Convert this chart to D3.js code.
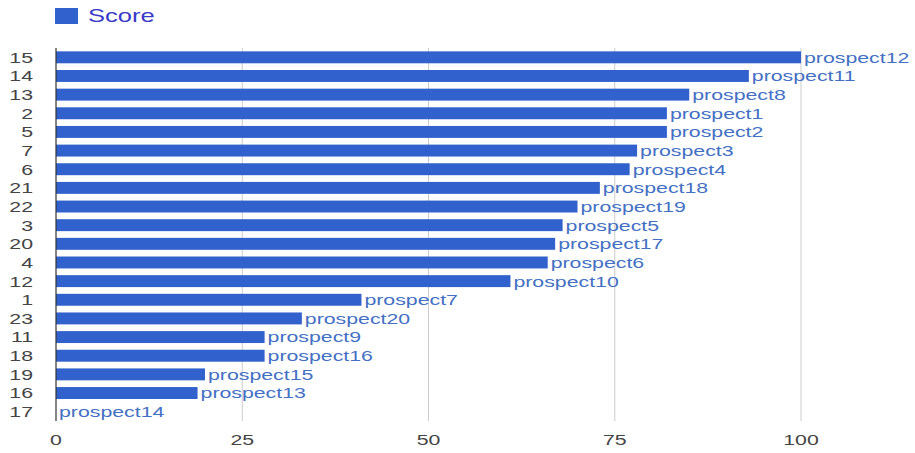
<!DOCTYPE html>
<html>
<head>
<meta charset="utf-8">
<script src="https://cdn.jsdelivr.net/npm/d3@7"></script>
<style>
  body { margin: 0; background: #fff; }
  text { font-family: "Liberation Sans", Arial, sans-serif; }
</style>
</head>
<body>
<div id="chart"></div>
<script>
// row ids as shown on the y axis, top to bottom
const ids = ['15', '14', '13', '2', '5', '7', '6', '21', '22', '3', '20', '4', '12', '1', '23', '11', '18', '19', '16', '17'];
const names = ['prospect12', 'prospect11', 'prospect8', 'prospect1', 'prospect2', 'prospect3', 'prospect4', 'prospect18', 'prospect19', 'prospect5',
  'prospect17', 'prospect6', 'prospect10', 'prospect7', 'prospect20', 'prospect9', 'prospect16', 'prospect15', 'prospect13', 'prospect14'];
const scores = [100, 93, 85, 82, 82, 78, 77, 73, 70, 68, 67, 66, 61, 41, 33, 28, 28, 20, 19, 0];
const xTicks = [0, 25, 50, 75, 100];
const seriesName = 'Score';

const width = 915, height = 453;
const margin = {top: 48, right: 114, bottom: 32, left: 56};
const barColor = '#3061cc';
const stretch = 1.42; // the original picture is widened

const rows = ids.map((id, i) => ({id: id, name: names[i], score: scores[i]}));

const svg = d3.select('#chart').append('svg')
  .attr('width', width)
  .attr('height', height);

const x = d3.scaleLinear()
  .domain([0, 100])
  .range([margin.left, width - margin.right]);

const y = d3.scaleBand()
  .domain(ids)
  .range([margin.top, height - margin.bottom])
  .paddingInner(0.36)
  .paddingOuter(0.18);

// place text at (px, py), widened horizontally
function at(px, py) {
  return 'translate(' + px + ',' + py + ') scale(' + stretch + ',1)';
}

// gridlines
svg.append('g')
  .selectAll('line')
  .data(xTicks.filter(t => t > 0))
  .enter().append('line')
    .attr('x1', d => x(d)).attr('x2', d => x(d))
    .attr('y1', margin.top).attr('y2', height - margin.bottom)
    .style('stroke', '#cccccc')
    .style('stroke-width', 1);

// bars
svg.append('g')
  .selectAll('rect')
  .data(rows)
  .enter().append('rect')
    .attr('x', x(0))
    .attr('y', d => y(d.id))
    .attr('width', d => x(d.score) - x(0))
    .attr('height', y.bandwidth())
    .style('fill', barColor);

// bar annotations
svg.append('g')
  .selectAll('text')
  .data(rows)
  .enter().append('text')
    .attr('transform', d => at(x(d.score) + 3, y(d.id) + y.bandwidth() / 2))
    .attr('dy', '0.36em')
    .style('font-size', '15px')
    .style('fill', '#4470c4')
    .text(d => d.name);

// baseline
svg.append('line')
  .attr('x1', x(0)).attr('x2', x(0))
  .attr('y1', margin.top).attr('y2', height - margin.bottom)
  .style('stroke', '#333333')
  .style('stroke-width', 1.2);

// y axis labels
svg.append('g')
  .selectAll('text')
  .data(ids)
  .enter().append('text')
    .attr('transform', d => at(33, y(d) + y.bandwidth() / 2))
    .attr('dy', '0.36em')
    .attr('text-anchor', 'end')
    .style('font-size', '15px')
    .style('fill', '#444444')
    .text(d => d);

// x axis labels
svg.append('g')
  .selectAll('text')
  .data(xTicks)
  .enter().append('text')
    .attr('transform', d => at(x(d), 445))
    .attr('text-anchor', 'middle')
    .style('font-size', '15px')
    .style('fill', '#444444')
    .text(d => d);

// legend
const legend = svg.append('g');
legend.append('rect')
  .attr('x', 55).attr('y', 8)
  .attr('width', 23).attr('height', 16)
  .style('fill', barColor);
legend.append('text')
  .attr('transform', at(88, 22))
  .style('font-size', '18px')
  .style('fill', '#3a3ac8')
  .text(seriesName);
</script>
</body>
</html>
